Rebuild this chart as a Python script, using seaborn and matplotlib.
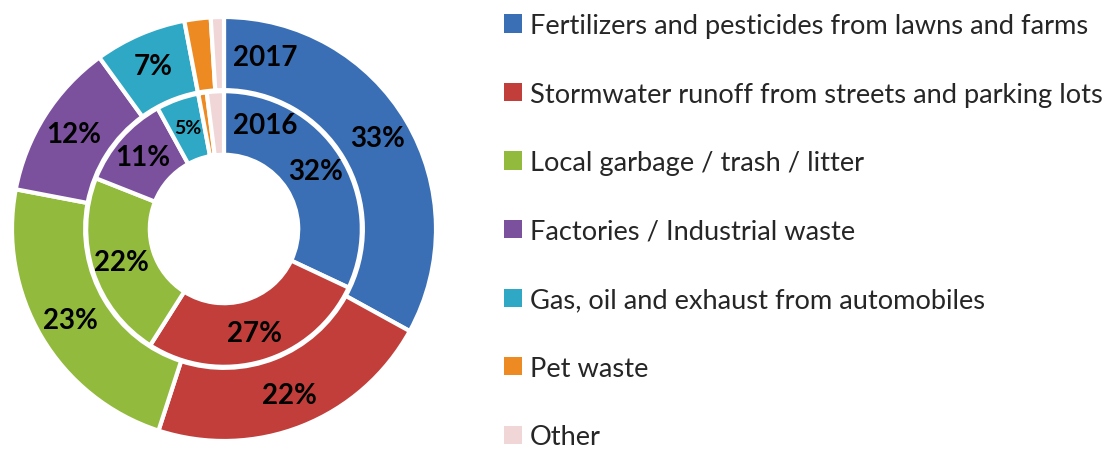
import matplotlib
matplotlib.use("Agg")
import matplotlib.pyplot as plt
from matplotlib.patches import Patch
import numpy as np
import seaborn as sns

# Survey shares by source of water pollution
categories = [
    "Fertilizers and pesticides from lawns and farms",
    "Stormwater runoff from streets and parking lots",
    "Local garbage / trash / litter",
    "Factories / Industrial waste",
    "Gas, oil and exhaust from automobiles",
    "Pet waste",
    "Other",
]
values_2017 = [33, 22, 23, 12, 7, 2, 1]
values_2016 = [32, 27, 22, 11, 5, 1, 2]
series_names = ["2017", "2016"]

palette = ["#3A6FB5", "#C23E3A", "#92BA3C", "#7B519E", "#2EA8C4", "#EE8A22", "#F0D6D6"]

sns.set_theme(style="white")
plt.rcParams["font.family"] = ["Lato", "DejaVu Sans"]

fig = plt.figure(figsize=(11.08, 4.52), dpi=100)
W, H = 1108, 452
cx, cy, R = 224, 230, 212
ax = fig.add_axes([(cx - R) / W, (H - cy - R) / H, 2 * R / W, 2 * R / H])
ax.set_aspect("equal")
ax.axis("off")

outer_r, outer_w = 1.0, 0.345
inner_r, inner_w = 0.65, 0.30
edge = dict(edgecolor="white", linewidth=3)

ax.pie(values_2017, radius=outer_r, colors=palette, startangle=90,
       counterclock=False, wedgeprops=dict(width=outer_w, **edge))
ax.pie(values_2016, radius=inner_r, colors=palette, startangle=90,
       counterclock=False, wedgeprops=dict(width=inner_w, **edge))
ax.set_xlim(-1, 1)
ax.set_ylim(-1, 1)


def ring_labels(vals, r_text, min_show, small_below):
    total = sum(vals)
    start = 90.0
    for v in vals:
        span = 360.0 * v / total
        mid = np.deg2rad(start - span / 2)
        start -= span
        if v < min_show:
            continue
        size = 14 if v < small_below else 20
        ax.text(r_text * np.cos(mid), r_text * np.sin(mid), f"{v}%",
                ha="center", va="center", fontsize=size, fontweight="bold",
                color="black")


ring_labels(values_2017, 0.84, 5, 0)
ring_labels(values_2016, 0.51, 5, 6)

# series names next to the start of each ring
ax.text(0.195, 0.81, series_names[0], ha="center", va="center",
        fontsize=20, fontweight="bold", color="black")
ax.text(0.195, 0.49, series_names[1], ha="center", va="center",
        fontsize=20, fontweight="bold", color="black")

handles = [Patch(facecolor=c, edgecolor="none") for c in palette]
fig.legend(handles, categories, loc="upper left",
           bbox_to_anchor=(504 / W, 1 - 14 / H), frameon=False,
           fontsize=19.6, handlelength=0.65, handleheight=0.65,
           handletextpad=0.3, labelspacing=1.6, borderpad=0,
           borderaxespad=0)

fig.savefig("out.png", dpi=100)
